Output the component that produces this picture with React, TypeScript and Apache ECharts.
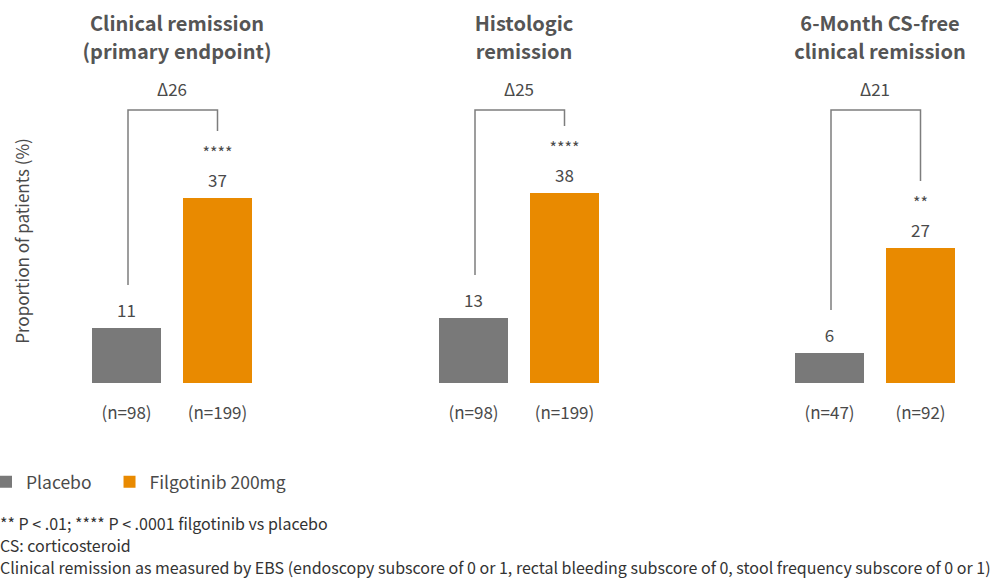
import React, { useEffect, useRef } from "react";
import * as echarts from "echarts";

const panelTitles = [
  "Clinical remission\n(primary endpoint)",
  "Histologic\nremission",
  "6-Month CS-free\nclinical remission",
];
const placeboN = ["(n=98)", "(n=98)", "(n=47)"];
const filgotinibN = ["(n=199)", "(n=199)", "(n=92)"];
const placeboValues = [11, 13, 6];
const filgotinibValues = [37, 38, 27];
const deltas = [26, 25, 21];
const significance = ["****", "****", "**"];
const seriesNames = ["Placebo", "Filgotinib 200mg"];
const yAxisTitle = "Proportion of patients (%)";
const footnotes = [
  "** P < .01; **** P < .0001 filgotinib vs placebo",
  "CS: corticosteroid",
  "Clinical remission as measured by EBS (endoscopy subscore of 0 or 1, rectal bleeding subscore of 0, stool frequency subscore of 0 or 1)",
];

const FONT = '"Noto Sans CJK KR", "Noto Sans", sans-serif';
const GRAY = "#797979";
const ORANGE = "#e98a00";
const TEXT = "#4a4a4a";
const gridLefts = [81, 428, 784];
const GRID_W = 182;
const GRID_TOP = 183;
const GRID_H = 200;
const Y_MAX = 40;
const BRACKET_LEVEL = 54.6;

export default function App() {
  const ref = useRef<HTMLDivElement>(null);
  useEffect(() => {
    if (!ref.current) return;
    const chart = echarts.init(ref.current, undefined, { renderer: "svg" });

    const grids = gridLefts.map((left) => ({ left, top: GRID_TOP, width: GRID_W, height: GRID_H }));
    const xAxes = gridLefts.map((_, i) => ({
      type: "category",
      gridIndex: i,
      data: [placeboN[i], filgotinibN[i]],
      axisLine: { show: false },
      axisTick: { show: false },
      axisLabel: { margin: 20, fontSize: 17, color: TEXT, fontFamily: FONT },
    }));
    const yAxes = gridLefts.map((_, i) => ({
      type: "value",
      gridIndex: i,
      min: 0,
      max: Y_MAX,
      show: false,
      splitLine: { show: false },
    }));

    const series: any[] = [];
    gridLefts.forEach((_, i) => {
      series.push({
        type: "bar",
        name: seriesNames[0],
        xAxisIndex: i,
        yAxisIndex: i,
        barWidth: 69,
        barGap: "-100%",
        itemStyle: { color: GRAY },
        data: [placeboValues[i], "-"],
        label: {
          show: true,
          position: "top",
          distance: 8,
          fontSize: 17,
          lineHeight: 22,
          color: TEXT,
          fontFamily: FONT,
        },
      });
      series.push({
        type: "bar",
        name: seriesNames[1],
        xAxisIndex: i,
        yAxisIndex: i,
        barWidth: 69,
        barGap: "-100%",
        itemStyle: { color: ORANGE },
        data: ["-", filgotinibValues[i]],
        label: {
          show: true,
          position: "top",
          distance: 8,
          formatter: (p: any) => `{s|${significance[i]}}\n{v|${p.value}}`,
          rich: {
            s: { fontSize: 16, lineHeight: 32, color: TEXT, fontFamily: FONT },
            v: { fontSize: 17, lineHeight: 22, color: TEXT, fontFamily: FONT },
          },
        },
      });
      series.push({
        type: "custom",
        xAxisIndex: i,
        yAxisIndex: i,
        silent: true,
        clip: false,
        data: [[0, placeboValues[i], filgotinibValues[i], deltas[i]]],
        renderItem: (params: any, api: any) => {
          const a = api.coord([0, api.value(1)]);
          const b = api.coord([1, api.value(2)]);
          const top = api.coord([0, BRACKET_LEVEL])[1];
          return {
            type: "group",
            children: [
              {
                type: "polyline",
                shape: {
                  points: [
                    [a[0] + 1.5, a[1] - 43],
                    [a[0] + 1.5, top],
                    [b[0], top],
                    [b[0], b[1] - 67],
                  ],
                },
                style: { stroke: "#7d7d7d", lineWidth: 1.5, fill: "none" },
              },
              {
                type: "text",
                x: (a[0] + b[0]) / 2,
                y: top - 22,
                style: {
                  text: "Δ" + api.value(3),
                  fill: TEXT,
                  fontSize: 17,
                  fontFamily: FONT,
                  align: "center",
                  verticalAlign: "middle",
                },
              },
            ],
          };
        },
      });
    });

    const titles = gridLefts.map((left, i) => ({
      text: panelTitles[i],
      left: left + GRID_W / 2,
      top: 3,
      textAlign: "center",
      textStyle: { fontSize: 20, fontWeight: "bold", lineHeight: 28, color: "#555", fontFamily: FONT },
    }));

    chart.setOption({
      animation: false,
      backgroundColor: "#ffffff",
      title: titles,
      grid: grids,
      xAxis: xAxes,
      yAxis: yAxes,
      series,
      legend: {
        data: seriesNames,
        left: 0,
        top: 473,
        padding: 0,
        icon: "rect",
        itemWidth: 12,
        itemHeight: 12,
        itemGap: 32,
        selectedMode: false,
        textStyle: { fontSize: 17.5, color: TEXT, fontFamily: FONT, padding: [0, 0, 0, 9] },
      },
      graphic: [
        {
          type: "text",
          x: 21,
          y: 241,
          rotation: Math.PI / 2,
          style: {
            text: yAxisTitle,
            fill: TEXT,
            fontSize: 17,
            fontFamily: FONT,
            align: "center",
            verticalAlign: "middle",
          },
        },
        ...footnotes.map((t, i) => ({
          type: "text",
          x: 0,
          y: 523 + i * 22,
          style: {
            text: t,
            fill: "#333",
            fontSize: 16,
            fontFamily: FONT,
            align: "left",
            verticalAlign: "middle",
          },
        })),
      ],
    });
    return () => chart.dispose();
  }, []);
  return (
    <div
      ref={ref}
      style={{ position: "absolute", left: 0, top: 0, width: 1002, height: 579 }}
    />
  );
}
